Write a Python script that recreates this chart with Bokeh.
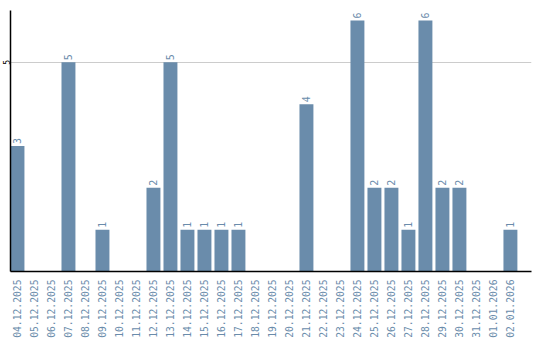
import math
from bokeh.plotting import figure
from bokeh.models import ColumnDataSource, Range1d, FixedTicker, CustomJSTickFormatter
from bokeh.core.properties import value
from bokeh.embed import file_html
from bokeh.resources import INLINE

dates = ["04.12.2025", "05.12.2025", "06.12.2025", "07.12.2025", "08.12.2025",
         "09.12.2025", "10.12.2025", "11.12.2025", "12.12.2025", "13.12.2025",
         "14.12.2025", "15.12.2025", "16.12.2025", "17.12.2025", "18.12.2025",
         "19.12.2025", "20.12.2025", "21.12.2025", "22.12.2025", "23.12.2025",
         "24.12.2025", "25.12.2025", "26.12.2025", "27.12.2025", "28.12.2025",
         "29.12.2025", "30.12.2025", "31.12.2025", "01.01.2026", "02.01.2026"]
counts = [3, 0, 0, 5, 0, 1, 0, 0, 2, 5, 1, 1, 1, 1, 0, 0, 0, 4, 0, 0,
          6, 2, 2, 1, 6, 2, 2, 0, 0, 1]
y_ticks = [5]

BAR = "#6a8cab"
FONT = "DejaVu Sans Mono"

xs = list(range(len(dates)))
src = ColumnDataSource(dict(x=xs, top=counts))
nz = [i for i, c in enumerate(counts) if c > 0]
lsrc = ColumnDataSource(dict(x=[xs[i] for i in nz], y=[counts[i] for i in nz],
                             t=[str(counts[i]) for i in nz]))

X0 = -0.41
p = figure(width=540, height=340, output_backend="svg", toolbar_location=None,
           x_range=Range1d(X0, 30.24), y_range=Range1d(0, 6.24),
           min_border_left=10, min_border_right=9, min_border_top=10,
           min_border_bottom=0)
p.outline_line_color = None
p.background_fill_color = "white"
p.border_fill_color = "white"

p.vbar(x="x", top="top", width=0.82, bottom=0, source=src,
       fill_color=BAR, line_color=None)
p.text(x="x", y="y", text="t", source=lsrc, angle=math.pi / 2,
       text_align="left", text_baseline="middle", x_offset=0, y_offset=-2,
       text_font=value(FONT), text_font_size="10px", text_color=BAR)

# x axis
p.xaxis.ticker = FixedTicker(ticks=xs)
p.xaxis.formatter = CustomJSTickFormatter(args=dict(labels=dates),
                                          code="return labels[Math.round(tick)] || '';")
p.xaxis.major_label_orientation = math.pi / 2
p.xaxis.major_label_text_font = FONT
p.xaxis.major_label_text_font_size = "9.7px"
p.xaxis.major_label_text_color = BAR
p.xaxis.major_tick_line_color = None
p.xaxis.minor_tick_line_color = None
p.xaxis.major_label_standoff = 2
p.xaxis.axis_line_color = "black"
p.xaxis.axis_line_width = 1.5

# y axis
p.yaxis.ticker = FixedTicker(ticks=y_ticks)
p.yaxis.major_label_orientation = "parallel"
p.yaxis.major_label_text_font = FONT
p.yaxis.major_label_text_font_size = "8px"
p.yaxis.major_label_text_color = "black"
p.yaxis.major_tick_line_color = None
p.yaxis.minor_tick_line_color = None
p.yaxis.major_label_standoff = -6
p.yaxis.axis_line_color = "black"
p.yaxis.axis_line_width = 1.5

p.xgrid.grid_line_color = None
p.ygrid.ticker = FixedTicker(ticks=y_ticks)
p.ygrid.grid_line_color = "#cccccc"

open("out.html", "w").write(file_html(p, INLINE))
